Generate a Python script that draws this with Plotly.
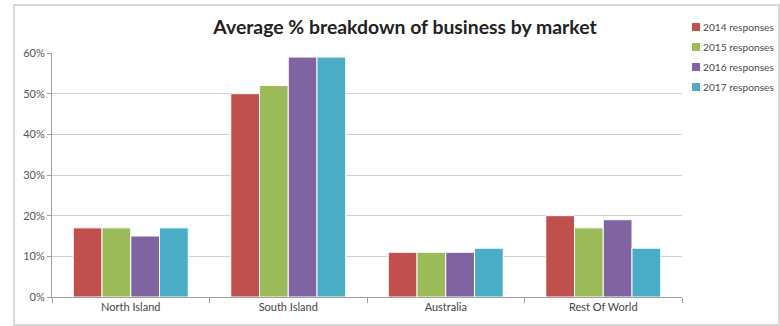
import plotly.graph_objects as go

markets = ["North Island", "South Island", "Australia", "Rest Of World"]
series_names = ["2014 responses", "2015 responses", "2016 responses", "2017 responses"]
values_2014 = [0.17, 0.50, 0.11, 0.20]
values_2015 = [0.17, 0.52, 0.11, 0.17]
values_2016 = [0.15, 0.59, 0.11, 0.19]
values_2017 = [0.17, 0.59, 0.12, 0.12]
colors = ["#C0504D", "#9BBB59", "#8064A2", "#4BACC6"]

W, H = 780, 326
L, R, T, B = 52, 98, 53, 29
pw, ph = W - L - R, H - T - B


def px_x(v):
    return (v - L) / pw


def px_y(v):
    return (H - B - v) / ph


fig = go.Figure()
for name, vals, col in zip(series_names,
                           [values_2014, values_2015, values_2016, values_2017],
                           colors):
    fig.add_trace(go.Bar(
        x=markets, y=vals, name=name, showlegend=False,
        marker=dict(color=col, line=dict(color="white", width=1)),
    ))

# Legend: small colour squares with labels to the right of the plot
shapes = [dict(
    type="rect", xref="paper", yref="paper",
    x0=px_x(14), x1=px_x(779), y0=px_y(325), y1=px_y(5),
    line=dict(color="#CCCCCC", width=1.5), layer="below",
)]
annotations = []
for i, (name, col) in enumerate(zip(series_names, colors)):
    cy = 27 + i * 20
    shapes.append(dict(
        type="rect", xref="paper", yref="paper",
        x0=px_x(692), x1=px_x(700), y0=px_y(cy + 4), y1=px_y(cy - 4),
        fillcolor=col, line=dict(width=0),
    ))
    annotations.append(dict(
        text=name, xref="paper", yref="paper",
        x=px_x(701), y=px_y(cy), xanchor="left", yanchor="middle",
        showarrow=False, font=dict(size=10.2, color="#4A4A4A"),
    ))

fig.update_layout(
    width=W, height=H,
    margin=dict(l=L, r=R, t=T, b=B, autoexpand=False),
    paper_bgcolor="white", plot_bgcolor="white",
    barmode="group", bargap=0.27, bargroupgap=0,
    font=dict(family="Lato, Open Sans, sans-serif", color="#555", size=11),
    title=dict(
        text="Average % breakdown of business by market",
        x=405 / W, xanchor="center", xref="container",
        y=1 - 27 / H, yanchor="middle", yref="container",
        font=dict(family="Lato, Open Sans, sans-serif", size=19.4, color="#222",
                  weight=700),
    ),
    xaxis=dict(
        showline=True, linecolor="#A0A0A0", linewidth=1,
        ticks="outside", tickson="boundaries", ticklen=5, tickcolor="#A0A0A0",
        tickfont=dict(size=11, color="#444"),
        showgrid=False,
    ),
    yaxis=dict(
        range=[0, 0.6], dtick=0.1, tickformat=".0%",
        showline=True, linecolor="#A0A0A0", linewidth=1,
        ticks="outside", ticklen=4, tickcolor="#A0A0A0",
        showgrid=True, gridcolor="#D0D0D0", gridwidth=1,
        zeroline=False,
        tickfont=dict(size=11, color="#555"),
    ),
    shapes=shapes,
    annotations=annotations,
)

fig.write_html("out.html")
